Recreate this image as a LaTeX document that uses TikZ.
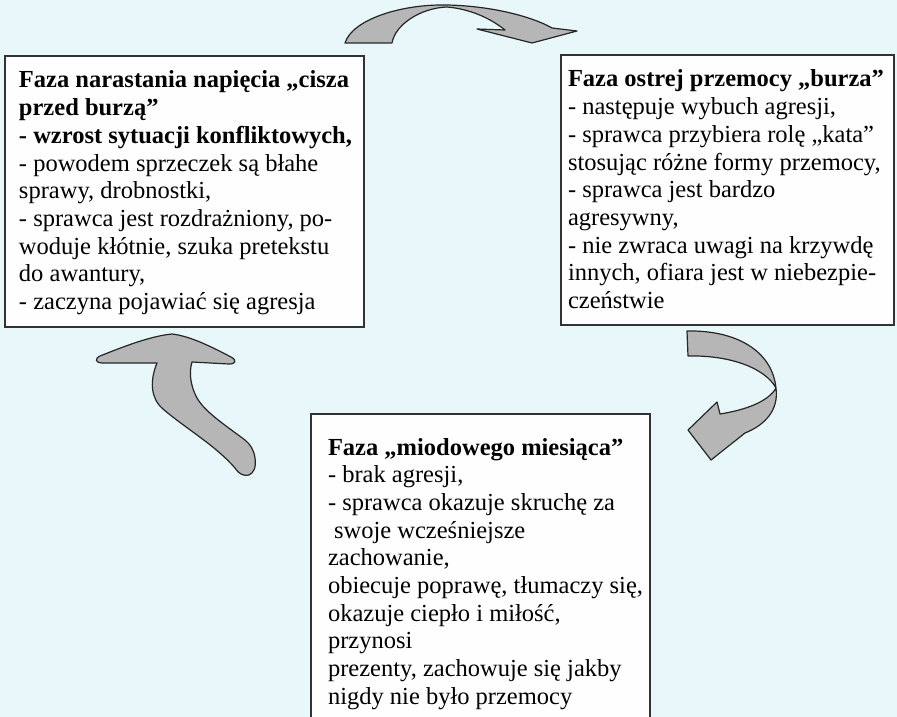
\documentclass[tikz,border=0pt]{standalone}
\usepackage{fontspec}
\setmainfont{Liberation Serif}
\definecolor{bgc}{RGB}{231,247,250}
\definecolor{boxc}{RGB}{254,254,254}
\definecolor{arrc}{RGB}{182,182,182}
\definecolor{linec}{RGB}{50,50,50}
\tikzset{
  phasebox/.style={draw=linec, line width=1.5pt, fill=boxc, inner sep=0pt, outer sep=0pt},
  phasetext/.style={anchor=base west, inner sep=0pt, outer sep=0pt},
  ribbon/.style={fill=arrc, draw=black!85, line width=1.2pt, line join=round}
}
\newcommand{\phasefont}{\fontsize{24.5}{27.7}\selectfont}
\begin{document}
\begin{tikzpicture}[x=1pt,y=-1pt]
\useasboundingbox (0,0) rectangle (897,717);
\clip (0,0) rectangle (897,717);
\fill[bgc] (0,0) rectangle (897,717);

% boxes
\node[phasebox, minimum width=359pt, minimum height=271pt] (lbox) at (184.5,191.5) {};
\node[phasebox, minimum width=333pt, minimum height=270pt] (rbox) at (727.5,190) {};
\node[phasebox, minimum width=339pt, minimum height=330pt] (bbox) at (480.5,579) {};

% texts
\node[phasetext] (ltext) at (19,88) {\parbox[t]{345pt}{\raggedright\phasefont
\textbf{Faza narastania napięcia „cisza}\\
\textbf{przed burzą”}\\
\textbf{- wzrost sytuacji konfliktowych,}\\
- powodem sprzeczek są błahe\\
sprawy, drobnostki,\\
- sprawca jest rozdrażniony, po-\\
woduje kłótnie, szuka pretekstu\\
do awantury,\\
- zaczyna pojawiać się agresja}};

\node[phasetext] (rtext) at (568,87) {\parbox[t]{330pt}{\raggedright\phasefont
\textbf{Faza ostrej przemocy „burza”}\\
- następuje wybuch agresji,\\
- sprawca przybiera rolę „kata”\\
stosując różne formy przemocy,\\
- sprawca jest bardzo\\
agresywny,\\
- nie zwraca uwagi na krzywdę\\
innych, ofiara jest w niebezpie-\\
czeństwie}};

\node[phasetext] (btext) at (328,455) {\parbox[t]{320pt}{\raggedright\phasefont
\textbf{Faza „miodowego miesiąca”}\\
- brak agresji,\\
- sprawca okazuje skruchę za\\
\hspace*{0.25em}swoje wcześniejsze\\
zachowanie,\\
obiecuje poprawę, tłumaczy się,\\
okazuje ciepło i miłość,\\
przynosi\\
prezenty, zachowuje się jakby\\
nigdy nie było przemocy}};

% top arrow (left box -> right box)
\draw[ribbon] (345,43) .. controls (352,20) and (400,4) .. (447,5)
  .. controls (495,6) and (535,18) .. (552,28)
  -- (577,31) -- (532,43) -- (477,29) -- (505,30)
  .. controls (490,18) and (470,9) .. (447,7)
  .. controls (420,8) and (395,25) .. (392,43) -- cycle;

% right arrow (right box -> bottom box)
\draw[ribbon] (687,331) .. controls (735,330) and (772,350) .. (776,388)
  .. controls (779,410) and (765,425) .. (745,433)
  -- (711,460) -- (688,430) -- (717,402) -- (720,414)
  .. controls (745,410) and (768,402) .. (776,388)
  .. controls (765,368) and (730,355) .. (688,356) -- cycle;

% left arrow (bottom box -> left box)
\draw[ribbon] (157,363) .. controls (150,380) and (150,398) .. (163,409)
  .. controls (185,428) and (215,445) .. (235,468)
  .. controls (242,480) and (258,478) .. (255,458)
  .. controls (254,450) and (250,444) .. (245,440)
  .. controls (225,425) and (205,412) .. (197,398)
  .. controls (190,385) and (189,372) .. (192,362)
  -- (229,364)
  .. controls (236,364) and (237,360) .. (231,357)
  .. controls (212,347) and (190,336) .. (172,334)
  .. controls (150,336) and (120,348) .. (100,356)
  .. controls (94,359) and (96,363) .. (102,363) -- cycle;
\end{tikzpicture}
\end{document}
